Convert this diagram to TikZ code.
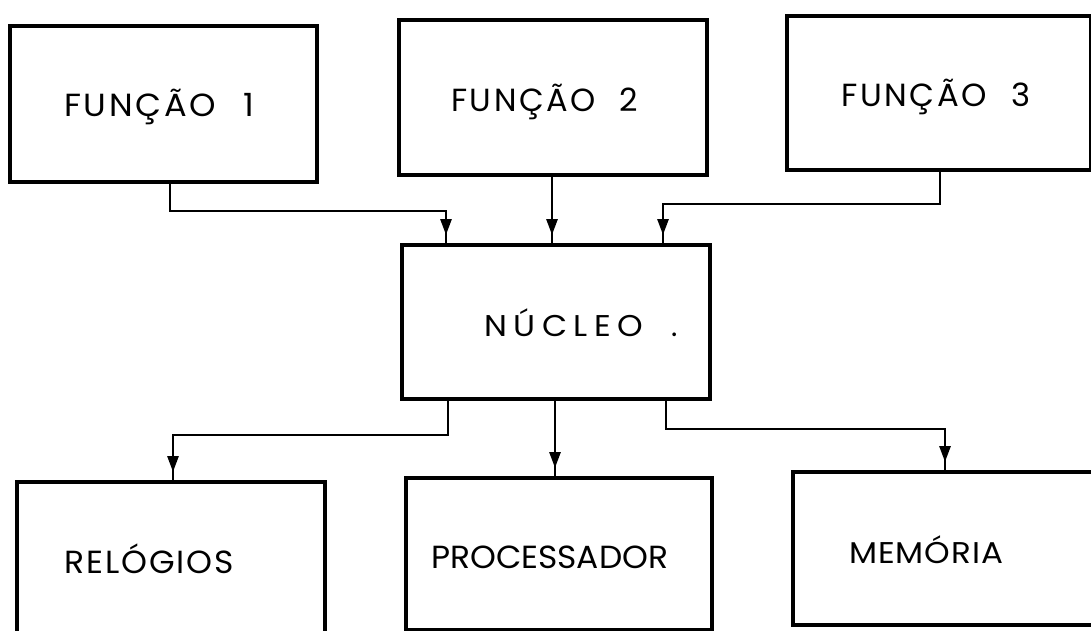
\documentclass[tikz,border=0pt]{standalone}
\usepackage{fontspec}
\setmainfont{Poppins}
\usetikzlibrary{arrows.meta,decorations.markings}
\tikzset{
  box/.style={draw, line width=3.6pt, rectangle, inner sep=0pt, anchor=north west},
  conn/.style={line width=2.8pt, line join=miter,
    postaction={decorate},
    decoration={markings, mark=at position -8pt with {\arrow{Triangle[length=16pt,width=11pt]}}}},
  lbl/.style={inner sep=0pt, anchor=base west, font=\fontsize{32}{36}\selectfont},
  lbls/.style={lbl, font=\fontsize{30}{36}\selectfont},
}
\begin{document}
\begin{tikzpicture}[x=1pt,y=-1pt]
\useasboundingbox (0,0) rectangle (1091,631);
% boxes
\node[box, minimum width=307pt, minimum height=156pt] (f1) at (8,24) {};
\node[box, minimum width=308pt, minimum height=155pt] (f2) at (397,18) {};
\node[box, minimum width=304pt, minimum height=154pt] (f3) at (785,14) {};
\node[box, minimum width=308pt, minimum height=154pt] (nuc) at (400,243) {};
\node[box, minimum width=308pt, minimum height=180pt] (rel) at (15,480) {};
\node[box, minimum width=306pt, minimum height=152pt] (proc) at (404,476) {};
\node[box, minimum width=330pt, minimum height=153pt] (mem) at (791,470) {};
% labels
\node[lbl] (t1) at (64,117) {\resizebox{190pt}{\height}{\addfontfeatures{LetterSpace=8}FUNÇÃO\hspace{26pt}1}};
\node[lbl] (t2) at (451,112) {\resizebox{187pt}{\height}{\addfontfeatures{LetterSpace=8}FUNÇÃO\hspace{24pt}2}};
\node[lbl] (t3) at (841,107) {\resizebox{189pt}{\height}{\addfontfeatures{LetterSpace=8}FUNÇÃO\hspace{24pt}3}};
\node[lbls] (tn) at (484,336) {\resizebox{159pt}{\height}{\addfontfeatures{LetterSpace=20}NÚCLEO}};
\node[lbls] (td) at (671,336) {.};
\node[lbl] (tr) at (64,573) {\resizebox{170pt}{\height}{\addfontfeatures{LetterSpace=6}RELÓGIOS}};
\node[lbl] (tp) at (431,568) {\resizebox{237pt}{\height}{PROCESSADOR}};
\node[lbls] (tm) at (849,563) {\resizebox{154pt}{\height}{\addfontfeatures{LetterSpace=3}MEMÓRIA}};
% connectors
\coordinate (k1) at (170,211);
\coordinate (k2) at (446,211);
\draw[conn] (f1.south -| k1) -- (k1) -- (k2) -- (nuc.north -| k2);
\coordinate (k3) at (552,0);
\draw[conn] (f2.south -| k3) -- (nuc.north -| k3);
\coordinate (k4) at (940,204);
\coordinate (k5) at (663,204);
\draw[conn] (f3.south -| k4) -- (k4) -- (k5) -- (nuc.north -| k5);
\coordinate (k6) at (448,435);
\coordinate (k7) at (173,435);
\draw[conn] (nuc.south -| k6) -- (k6) -- (k7) -- (rel.north -| k7);
\coordinate (k8) at (555,0);
\draw[conn] (nuc.south -| k8) -- (proc.north -| k8);
\coordinate (k9) at (666,429);
\coordinate (k10) at (945,429);
\draw[conn] (nuc.south -| k9) -- (k9) -- (k10) -- (mem.north -| k10);
\end{tikzpicture}
\end{document}
